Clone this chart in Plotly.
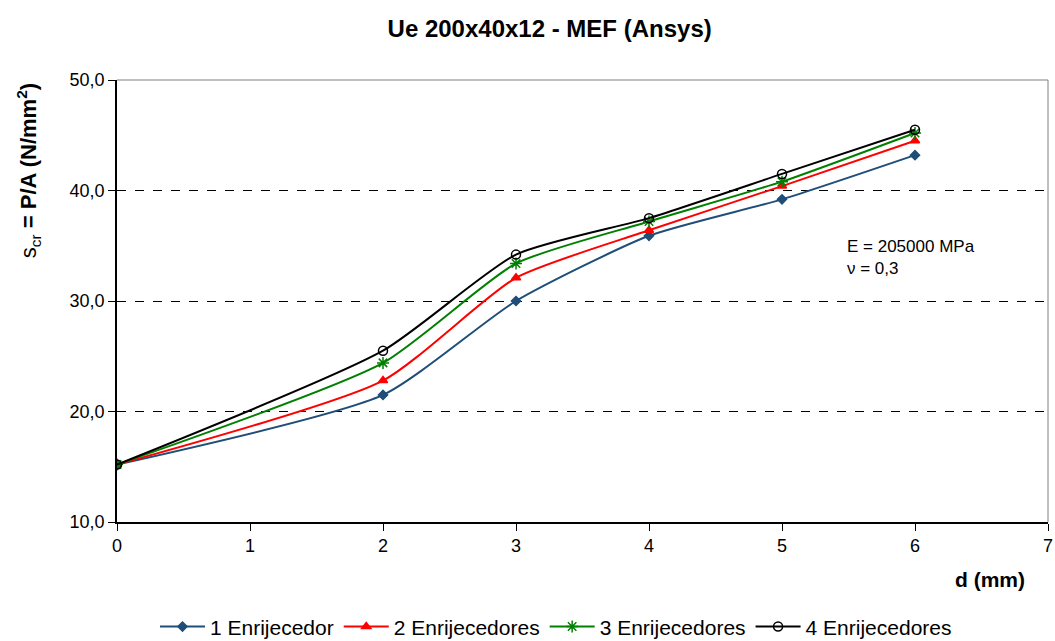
import plotly.graph_objects as go

d_mm = [0, 2, 3, 4, 5, 6]
s1 = [15.2, 21.5, 30.0, 35.9, 39.2, 43.2]
s2 = [15.2, 22.8, 32.1, 36.4, 40.4, 44.5]
s3 = [15.2, 24.4, 33.4, 37.2, 40.8, 45.2]
s4 = [15.2, 25.5, 34.2, 37.5, 41.5, 45.5]
names = ["1 Enrijecedor", "2 Enrijecedores", "3 Enrijecedores", "4 Enrijecedores"]
colors = ["#1f4e79", "#ff0000", "#008000", "#000000"]
symbols = ["diamond", "triangle-up", "asterisk-open", "circle-open"]
sizes = [7, 8, 10, 9]

FONT = "Liberation Sans"

fig = go.Figure()
for ys, nm, c, sym, sz in zip([s1, s2, s3, s4], names, colors, symbols, sizes):
    fig.add_trace(go.Scatter(
        x=d_mm, y=ys, name=nm, mode="lines+markers",
        line=dict(color=c, width=2, shape="spline", smoothing=0.6),
        marker=dict(symbol=sym, size=sz, color=c, line=dict(color=c, width=1.5)),
    ))

fig.update_layout(
    width=1055, height=641,
    paper_bgcolor="white", plot_bgcolor="white",
    separators=",.",
    font=dict(family=FONT, size=18, color="black"),
    margin=dict(l=117, r=7, t=80, b=119),
    title=dict(text="<b>Ue 200x40x12 - MEF (Ansys)</b>", xref="container", x=0.521,
               xanchor="center", yref="container", y=0.956, yanchor="middle",
               font=dict(family=FONT, size=24)),
    showlegend=True,
    legend=dict(orientation="h", xref="container", yref="container",
                x=0.527, xanchor="center", y=0.022, yanchor="middle",
                font=dict(family=FONT, size=21), itemwidth=45, traceorder="normal"),
    xaxis=dict(range=[0, 7], tickmode="linear", dtick=1, showgrid=False,
               showline=True, linecolor="black", linewidth=1.5, ticks="outside",
               ticklen=7, tickcolor="black", tickfont=dict(size=18), zeroline=False,
               automargin=False, ticklabeloverflow="allow"),
    yaxis=dict(range=[10, 50], tickmode="linear", dtick=10, tickformat=".1f",
               showgrid=True, gridcolor="black", griddash="dash", gridwidth=1,
               showline=True, linecolor="black", linewidth=1.5, ticks="outside",
               ticklen=7, tickcolor="black", tickfont=dict(size=18), zeroline=False,
               automargin=False),
)

# plot-area border on top and right
fig.add_shape(type="line", xref="paper", yref="paper", x0=0, x1=1, y0=1, y1=1,
              line=dict(color="#808080", width=1))
fig.add_shape(type="line", xref="paper", yref="paper", x0=1, x1=1, y0=0, y1=1,
              line=dict(color="#808080", width=1))

fig.add_annotation(text="s<sub>cr</sub> <b>= P/A (N/mm<sup>2</sup>)</b>", xref="paper", yref="paper",
                   x=-0.0956, y=0.796, textangle=-90, showarrow=False,
                   xanchor="center", yanchor="middle", font=dict(family=FONT, size=22))
fig.add_annotation(text="<b>d (mm)</b>", xref="paper", yref="paper",
                   x=0.977, y=-0.129, xanchor="right", yanchor="middle",
                   showarrow=False, font=dict(family=FONT, size=21))
fig.add_annotation(text="E = 205000 MPa<br>ν = 0,3", xref="x", yref="y",
                   x=5.47, y=33.98, xanchor="left", yanchor="middle", align="left",
                   showarrow=False, font=dict(family=FONT, size=17))

fig.write_html("out.html", config={"displayModeBar": False},
               post_script="document.body.style.margin='0px';document.body.style.overflow='hidden';")
